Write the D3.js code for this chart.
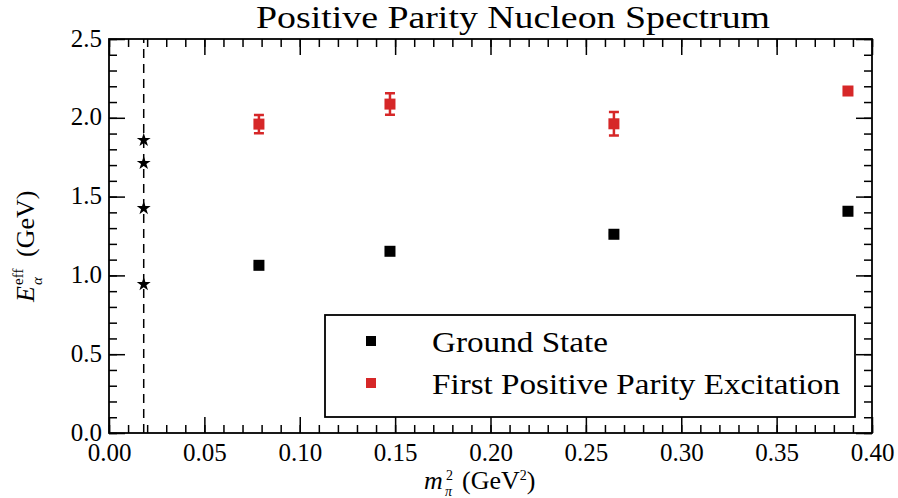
<!DOCTYPE html>
<html lang="en">
<head>
<meta charset="UTF-8">
<title>Positive Parity Nucleon Spectrum</title>
<script src="https://d3js.org/d3.v7.min.js"></script>
<style>
    body { margin: 0; background: white; }
    svg text { font-family: "Liberation Serif", "DejaVu Serif", serif; fill: black; }
</style>
</head>
<body>
<svg id="chart" width="898" height="498"></svg>
<script>
// data
let mpi2 = [0.0786, 0.1473, 0.2647, 0.3874]
let groundState = [1.064, 1.153, 1.261, 1.407]
let groundErr = [0.008, 0.008, 0.008, 0.008]
let excited = [1.960, 2.087, 1.962, 2.170]
let excitedErr = [0.058, 0.068, 0.075, 0.012]
let physicalMpi2 = 0.0182
let physicalLevels = [0.943, 1.426, 1.712, 1.858]
let xTicks = [0, 0.05, 0.10, 0.15, 0.20, 0.25, 0.30, 0.35, 0.40]
let yTicks = [0, 0.5, 1.0, 1.5, 2.0, 2.5]
let legendLabels = ['Ground State', 'First Positive Parity Excitation']
let legendWidths = [176, 408]
let colors = ['#000000', '#d62728']

let svg = d3.select('#chart')
let margin = {left: 109, right: 26, top: 39, bottom: 65}
let width = 898, height = 498

let x = d3.scaleLinear().domain([0, 0.4]).range([margin.left, width - margin.right])
let y = d3.scaleLinear().domain([0, 2.5]).range([height - margin.bottom, margin.top])

let minorX = d3.range(0, 0.4001, 0.01)
let minorY = d3.range(0, 2.5001, 0.1)

// ticks on all four sides, pointing inward
function drawAxis(axisFn, scale, ticks, minor, transform, fmt) {
    let g = svg.append('g').attr('transform', transform)
    g.call(axisFn(scale).tickValues(minor).tickSize(-8).tickFormat(''))
    g.select('.domain').remove()
    let g2 = svg.append('g').attr('transform', transform)
    g2.call(axisFn(scale).tickValues(ticks).tickSize(-16).tickPadding(7).tickFormat(fmt))
    g2.select('.domain').remove()
    svg.selectAll('.tick line').attr('stroke', 'black').attr('stroke-width', 1.5)
    return g2
}

let xb = drawAxis(d3.axisBottom, x, xTicks, minorX, `translate(0,${y(0)})`, d3.format('.2f'))
xb.selectAll('text').style('font-size', '25px').attr('dy', '0.82em')
drawAxis(d3.axisTop, x, xTicks, minorX, `translate(0,${y(2.5)})`, () => '')
let yl = drawAxis(d3.axisLeft, y, yTicks, minorY, `translate(${x(0)},0)`, d3.format('.1f'))
yl.selectAll('text').style('font-size', '25px').attr('dy', '0.28em')
drawAxis(d3.axisRight, y, yTicks, minorY, `translate(${x(0.4)},0)`, () => '')

// frame
svg.append('rect')
    .attr('x', x(0)).attr('y', y(2.5))
    .attr('width', x(0.4) - x(0)).attr('height', y(0) - y(2.5))
    .attr('fill', 'none').attr('stroke', 'black').attr('stroke-width', 1.8)

// physical point line
svg.append('line')
    .attr('x1', x(physicalMpi2)).attr('x2', x(physicalMpi2))
    .attr('y1', y(0)).attr('y2', y(2.5))
    .attr('stroke', 'black').attr('stroke-width', 1.5)
    .attr('stroke-dasharray', '9,6')

let star = d3.symbol().type(d3.symbolStar).size(60)
svg.append('g').selectAll('path')
    .data(physicalLevels).enter().append('path')
    .attr('d', star)
    .attr('transform', d => `translate(${x(physicalMpi2)},${y(d)})`)
    .attr('fill', 'black')

function drawSeries(vals, errs, color) {
    let g = svg.append('g')
    let pts = vals.map((v, i) => ({x: mpi2[i], y: v, e: errs[i]}))
    g.selectAll('.eb').data(pts).enter().append('path')
        .attr('d', d => {
            let cx = x(d.x), y0 = y(d.y - d.e), y1 = y(d.y + d.e)
            return `M${cx},${y0}V${y1}M${cx - 5},${y0}H${cx + 5}M${cx - 5},${y1}H${cx + 5}`
        })
        .attr('stroke', color).attr('stroke-width', 2.5).attr('fill', 'none')
    g.selectAll('rect').data(pts).enter().append('rect')
        .attr('x', d => x(d.x) - 5.5).attr('y', d => y(d.y) - 5.5)
        .attr('width', 11).attr('height', 11)
        .attr('fill', color)
}
drawSeries(groundState, groundErr, colors[0])
drawSeries(excited, excitedErr, colors[1])

// legend
let legend = svg.append('g')
legend.append('rect')
    .attr('x', 325).attr('y', 315).attr('width', 530).attr('height', 102)
    .attr('fill', 'white').attr('stroke', 'black').attr('stroke-width', 1.8)
legendLabels.forEach((lab, i) => {
    legend.append('rect')
        .attr('x', 366).attr('y', 336 + i * 42).attr('width', 10).attr('height', 10)
        .attr('fill', colors[i])
    legend.append('text')
        .attr('x', 432).attr('y', 352 + i * 42)
        .style('font-size', '30px')
        .attr('textLength', legendWidths[i])
        .attr('lengthAdjust', 'spacingAndGlyphs')
        .text(lab)
})

// title and labels
svg.append('text')
    .attr('x', 513).attr('y', 28)
    .attr('text-anchor', 'middle')
    .style('font-size', '31px')
    .attr('textLength', 514)
    .attr('lengthAdjust', 'spacingAndGlyphs')
    .text('Positive Parity Nucleon Spectrum')

// x label: m with stacked sub/superscript, then (GeV^2)
let xlY = 489
svg.append('text')
    .attr('x', 424).attr('y', xlY)
    .style('font-size', '26px').style('font-style', 'italic')
    .text('m')
svg.append('text')
    .attr('x', 446).attr('y', xlY - 9)
    .style('font-size', '14px')
    .text('2')
svg.append('text')
    .attr('x', 445).attr('y', xlY + 7)
    .style('font-size', '14px').style('font-style', 'italic')
    .text('π')
svg.append('text')
    .attr('x', 462).attr('y', xlY)
    .style('font-size', '26px')
    .text('(GeV')
    .append('tspan').attr('dy', -9).style('font-size', '14px').text('2')
    .select(function () { return this.parentNode })
    .append('tspan').attr('dy', 9).text(')')

// y label, rotated
let ylab = svg.append('g').attr('transform', 'translate(34,247) rotate(-90)')
ylab.append('text')
    .attr('x', -55).attr('y', 0)
    .style('font-size', '26px').style('font-style', 'italic')
    .text('E')
ylab.append('text')
    .attr('x', -38).attr('y', -11)
    .style('font-size', '15px')
    .text('eff')
ylab.append('text')
    .attr('x', -38).attr('y', 8)
    .style('font-size', '15px').style('font-style', 'italic')
    .text('α')
ylab.append('text')
    .attr('x', -10).attr('y', 0)
    .style('font-size', '26px')
    .text('(GeV)')
</script>
</body>
</html>
